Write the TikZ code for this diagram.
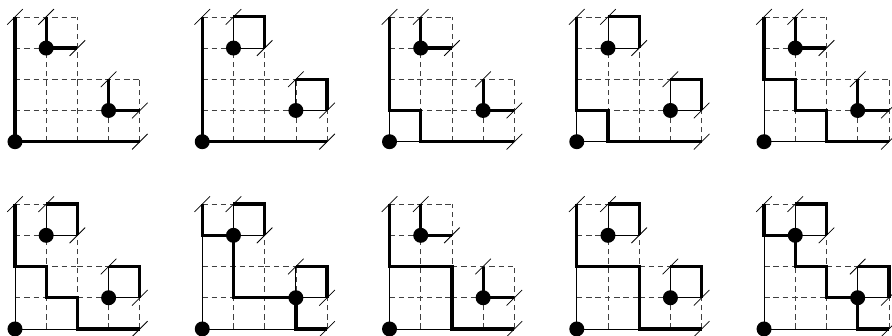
\documentclass[tikz,border=0pt]{standalone}
\usepackage{tikz}

\begin{document}
\begin{tikzpicture}[x=1cm, y=1cm,
  lattice/.style={dash pattern=on 5pt off 3.5pt, line width=0.6pt, black!75},
  base/.style={line width=0.8pt},
  lpath/.style={line width=3pt},
  tick/.style={line width=0.7pt},
  dot/.style={circle, fill, inner sep=0pt, minimum size=0.48cm}
]
  \useasboundingbox (-0.48,-6.21) rectangle (28.1,4.54);

  % column / row / upper squares? / path from the corner
  \foreach \c/\r/\u/\cpath in {
      0/0/0/{(0,4)--(0,0)--(4,0)},
      1/0/1/{(0,4)--(0,0)--(4,0)},
      2/0/0/{(0,4)--(0,1)--(1,1)--(1,0)--(4,0)},
      3/0/1/{(0,4)--(0,1)--(1,1)--(1,0)--(4,0)},
      4/0/0/{(0,4)--(0,2)--(1,2)--(1,1)--(2,1)--(2,0)--(4,0)},
      0/1/1/{(0,4)--(0,2)--(1,2)--(1,1)--(2,1)--(2,0)--(4,0)},
      1/1/1/{(0,4)--(0,3)--(1,3)--(1,1)--(3,1)--(3,0)--(4,0)},
      2/1/0/{(0,4)--(0,2)--(2,2)--(2,0)--(4,0)},
      3/1/1/{(0,4)--(0,2)--(2,2)--(2,0)--(4,0)},
      4/1/1/{(0,4)--(0,3)--(1,3)--(1,2)--(2,2)--(2,1)--(3,1)--(3,0)--(4,0)}} {
    \begin{scope}[shift={(6*\c,-6*\r)}]
      \draw[lattice] (0,0) grid (2,4);
      \draw[lattice] (2,0) grid (4,2);
      \draw[base] (0,4) -- (0,0) -- (4,0) (1,4) |- (2,3) (3,2) |- (4,1);
      \draw[lpath] \cpath;
      \ifnum\u=1
        \draw[lpath] (1,4) -| (2,3) (3,2) -| (4,1);
      \else
        \draw[lpath] (1,4) |- (2,3) (3,2) |- (4,1);
      \fi
      \foreach \p in {(0,4),(1,4),(2,3),(3,2),(4,1),(4,0)}
        \draw[tick] \p ++(-0.25,-0.25) -- ++(0.5,0.5);
      \node[dot] (o\c\r) at (0,0) {};
      \node[dot] (a\c\r) at (1,3) {};
      \node[dot] (b\c\r) at (3,1) {};
    \end{scope}
  }
\end{tikzpicture}
\end{document}
